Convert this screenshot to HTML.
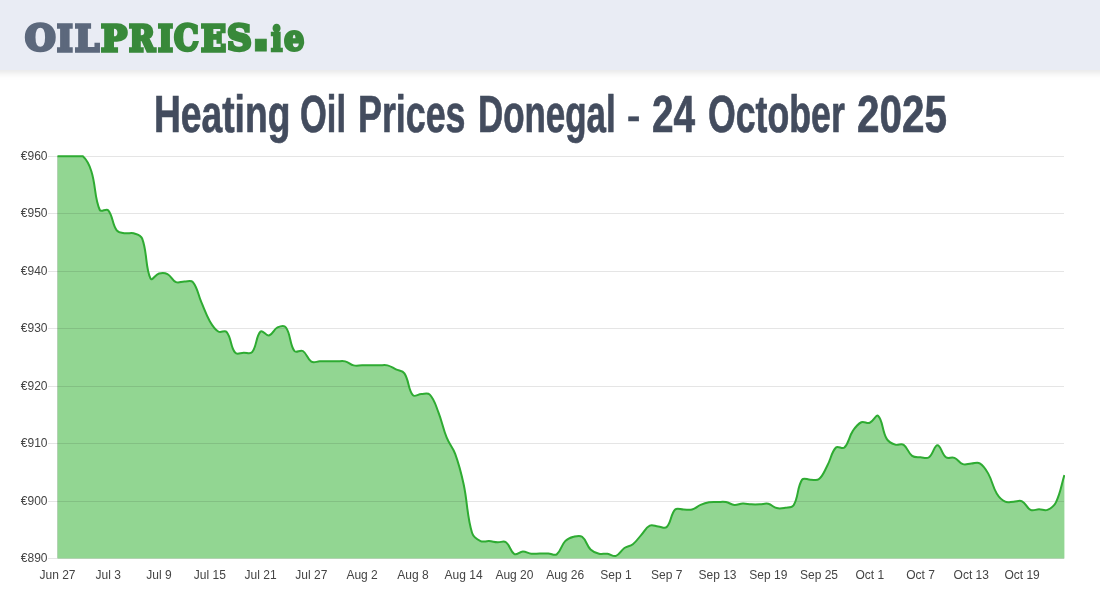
<!DOCTYPE html>
<html lang="en">
<head>
<meta charset="utf-8">
<title>Heating Oil Prices Donegal - 24 October 2025</title>
<style>
html,body{margin:0;padding:0;background:#fff;}
body{width:1100px;height:600px;position:relative;overflow:hidden;font-family:"Liberation Sans",sans-serif;}
#hdr{position:absolute;left:-30px;top:0;width:1160px;height:70px;background:#e9ecf4;box-shadow:0 2px 8px rgba(0,0,0,0.12);}
#logo{position:absolute;left:30px;top:0;width:320px;height:70px;white-space:nowrap;font-family:"DejaVu Serif","Liberation Serif",serif;font-weight:bold;font-size:35.0px;line-height:35.0px;}
#logo span{position:absolute;display:block;transform-origin:0 0;}
#logo .a{color:#5c687c;-webkit-text-stroke:3.3px #5c687c;}
#logo .b{color:#38893a;-webkit-text-stroke:3.3px #38893a;}
#ttl{position:absolute;left:0;top:85px;-webkit-text-stroke:0.7px #434c5e;width:1100px;height:60px;margin:0;font-family:"Liberation Sans",sans-serif;font-weight:bold;font-size:51px;line-height:60px;color:#434c5e;white-space:nowrap;}
#ttl span{position:absolute;top:0;display:block;transform-origin:0 50%;}
svg{position:absolute;left:0;top:0;}
.tk{font-family:"Liberation Sans",sans-serif;font-size:12px;fill:#444;}
</style>
</head>
<body>
<div id="hdr">
  <div id="logo"><span class="a" style="left:24.55px;top:20.39px;transform:scale(1.0032,1.0034)">O</span><span class="a" style="left:57.0px;top:20.55px;transform:scale(0.9576,0.9983)">I</span><span class="a" style="left:74.5px;top:20.55px;transform:scale(0.9804,0.9983)">L</span><span class="b" style="left:101.0px;top:20.55px;transform:scale(0.9889,0.9983)">P</span><span class="b" style="left:128.8px;top:20.55px;transform:scale(0.8968,0.9983)">R</span><span class="b" style="left:158.0px;top:20.55px;transform:scale(0.9091,0.9983)">I</span><span class="b" style="left:174.22px;top:20.39px;transform:scale(0.8842,1.0034)">C</span><span class="b" style="left:201.3px;top:20.55px;transform:scale(0.9396,0.9983)">E</span><span class="b" style="left:227.07px;top:20.39px;transform:scale(0.9792,1.0034)">S</span><span class="b" style="left:249.32px;top:-0.75px;transform:scale(1.7778,1.7857);font-family:'DejaVu Sans',sans-serif;-webkit-text-stroke-width:0.5px">.</span><span class="b" style="left:271.11px;top:21.63px;transform:scale(0.8571,0.9709);-webkit-text-stroke-width:2.8px">i</span><span class="b" style="left:283.5px;top:20.22px;transform:scale(0.9136,0.9977);-webkit-text-stroke-width:2.8px">e</span></div>
</div>
<h1 id="ttl"><span style="left:153.81px;transform:scaleX(0.7293)">Heating</span> <span style="left:300.05px;transform:scaleX(0.6762)">Oil</span> <span style="left:358.29px;transform:scaleX(0.702)">Prices</span> <span style="left:477.55px;transform:scaleX(0.6841)">Donegal</span> <span style="left:627.21px;top:0.5px;transform:scaleX(0.7857) scaleY(0.7)">-</span> <span style="left:652.24px;transform:scaleX(0.7607)">24</span> <span style="left:707.6px;transform:scaleX(0.6995)">October</span> <span style="left:856.81px;transform:scaleX(0.7928)">2025</span></h1>
<svg width="1100" height="600" viewBox="0 0 1100 600">
  <clipPath id="cp"><rect x="57" y="154" width="1008" height="405"/></clipPath>
  <g clip-path="url(#cp)">
    <path d="M57.50 156.30 C60.88 156.30 62.58 156.30 65.96 156.30 C69.35 156.30 71.04 156.30 74.42 156.30 C77.81 156.30 80.65 156.30 82.88 156.30 C87.42 160.30 89.30 164.75 91.35 171.23 C96.07 186.23 94.23 197.13 99.81 210.00 C101.00 212.75 106.38 208.01 108.27 210.29 C113.14 216.16 111.93 223.87 116.73 230.39 C118.70 233.06 121.71 232.67 125.19 233.26 C128.48 233.82 130.54 232.31 133.65 233.26 C137.30 234.38 140.80 234.90 142.11 238.43 C147.57 253.05 145.12 267.35 150.57 278.64 C151.89 281.36 155.39 274.46 159.04 273.47 C162.16 272.62 164.65 272.59 167.50 274.04 C171.42 276.04 172.04 280.35 175.96 282.08 C178.81 283.34 181.04 281.51 184.42 281.51 C187.80 281.51 190.99 279.77 192.88 282.08 C197.76 288.04 197.87 294.18 201.34 302.19 C204.64 309.80 205.69 314.01 209.80 321.14 C212.45 325.73 214.12 328.81 218.27 331.48 C220.89 333.17 224.86 329.71 226.73 332.05 C231.63 338.21 230.28 346.73 235.19 352.73 C237.05 355.00 240.27 352.84 243.65 352.73 C247.04 352.62 250.25 354.49 252.11 352.16 C257.02 345.99 255.80 336.17 260.57 331.48 C262.57 329.51 266.02 336.22 269.03 335.50 C272.79 334.61 273.57 329.32 277.49 327.46 C280.34 326.11 284.25 325.08 285.96 327.46 C291.01 334.50 289.36 343.97 294.42 351.01 C296.13 353.39 300.28 349.38 302.88 351.01 C307.05 353.63 307.17 359.09 311.34 361.63 C313.94 363.22 316.42 361.40 319.80 361.35 C323.19 361.29 324.88 361.35 328.26 361.35 C331.65 361.35 333.34 361.35 336.72 361.35 C340.11 361.35 341.97 360.58 345.19 361.35 C348.74 362.19 350.09 364.52 353.65 365.37 C356.86 366.13 358.72 365.37 362.11 365.37 C365.49 365.37 367.19 365.37 370.57 365.37 C373.95 365.37 375.65 365.37 379.03 365.37 C382.42 365.37 384.28 364.60 387.49 365.37 C391.05 366.21 392.57 367.78 395.95 369.39 C399.34 370.99 402.48 370.45 404.42 373.41 C409.25 380.79 407.92 389.17 412.88 395.23 C414.69 397.44 417.94 394.20 421.34 394.08 C424.71 393.97 427.72 392.48 429.80 394.66 C434.49 399.60 435.46 404.76 438.26 411.89 C442.23 421.99 442.66 427.68 446.72 437.74 C449.43 444.45 452.71 447.02 455.18 453.82 C459.48 465.63 461.01 471.91 463.64 484.26 C467.78 503.62 466.63 514.67 472.11 533.08 C473.40 537.41 476.64 539.25 480.57 541.12 C483.41 542.47 485.66 540.89 489.03 541.12 C492.43 541.35 494.09 542.04 497.49 542.27 C500.86 542.50 503.46 540.53 505.95 542.27 C510.23 545.24 510.21 551.76 514.41 554.04 C516.98 555.44 519.47 551.52 522.87 551.46 C526.24 551.40 527.89 553.35 531.34 553.76 C534.66 554.15 536.41 553.53 539.80 553.47 C543.18 553.41 544.88 553.30 548.26 553.47 C551.65 553.64 554.34 556.07 556.72 554.33 C561.11 551.13 560.96 545.48 565.18 541.12 C567.73 538.48 570.06 537.72 573.64 536.81 C576.83 536.00 579.68 535.00 582.10 536.81 C586.45 540.06 586.40 545.28 590.56 549.45 C593.17 552.05 595.45 552.84 599.03 553.76 C602.22 554.57 604.15 553.34 607.49 553.76 C610.92 554.19 613.04 556.87 615.95 555.88 C619.81 554.57 620.65 550.60 624.41 548.01 C627.42 545.94 630.01 546.45 632.87 544.22 C636.78 541.17 637.93 538.55 641.33 534.80 C644.69 531.10 645.77 527.59 649.79 525.61 C652.54 524.26 654.87 526.19 658.26 526.47 C661.64 526.76 664.66 529.11 666.72 527.05 C671.43 522.33 670.46 514.41 675.18 509.53 C677.23 507.41 680.25 509.53 683.64 509.53 C687.02 509.53 688.93 510.39 692.10 509.53 C695.70 508.55 697.03 506.43 700.56 504.93 C703.80 503.56 705.56 502.94 709.02 502.35 C712.33 501.79 714.10 502.12 717.48 502.06 C720.87 502.01 722.65 501.50 725.95 502.06 C729.42 502.65 730.95 504.64 734.41 504.93 C737.72 505.22 739.47 503.61 742.87 503.50 C746.24 503.38 747.94 504.19 751.33 504.36 C754.71 504.53 756.41 504.48 759.79 504.36 C763.18 504.25 765.06 503.08 768.25 503.79 C771.83 504.57 773.14 507.24 776.71 508.09 C779.91 508.85 781.87 508.37 785.18 507.81 C788.63 507.22 791.96 508.01 793.64 505.22 C798.73 496.75 796.95 487.44 802.10 479.66 C803.72 477.22 807.18 479.78 810.56 479.66 C813.95 479.55 816.69 481.06 819.02 479.09 C823.46 475.32 824.43 471.00 827.48 465.30 C831.20 458.36 831.21 452.48 835.94 447.50 C837.98 445.36 842.29 449.58 844.41 447.50 C849.06 442.91 848.75 436.98 852.87 430.84 C855.52 426.87 857.35 424.12 861.33 422.23 C864.12 420.90 866.83 423.91 869.79 422.80 C873.60 421.38 876.16 413.93 878.25 415.91 C882.93 420.36 881.94 430.78 886.71 438.88 C888.71 442.27 891.47 443.31 895.17 444.63 C898.24 445.72 901.06 443.21 903.63 444.91 C907.83 447.69 907.92 452.78 912.10 455.83 C914.69 457.72 917.15 456.97 920.56 457.26 C923.92 457.55 926.55 459.02 929.02 457.26 C933.32 454.20 934.10 445.20 937.48 445.20 C940.86 445.20 941.65 454.06 945.94 457.26 C948.41 459.11 951.39 456.61 954.40 457.84 C958.16 459.37 959.11 462.88 962.86 464.16 C965.88 465.18 967.94 463.75 971.33 463.58 C974.71 463.41 977.16 461.73 979.79 463.29 C983.93 465.75 985.66 469.02 988.25 473.63 C992.43 481.08 992.33 486.20 996.71 493.45 C999.10 497.41 1001.23 499.75 1005.17 501.66 C1008.00 503.03 1010.25 501.73 1013.63 501.66 C1017.02 501.59 1019.29 499.97 1022.09 501.32 C1026.06 503.23 1026.59 507.93 1030.55 509.82 C1033.36 511.15 1035.63 509.36 1039.02 509.36 C1042.40 509.36 1044.57 511.02 1047.48 509.82 C1051.34 508.22 1054.02 506.29 1055.94 502.35 C1060.79 492.39 1061.02 485.98 1064.40 475.07 L1064.40 558.60 L57.50 558.60 Z" fill="rgba(37,173,37,0.5)" stroke="none"/>
  </g>
  <g stroke="rgba(0,0,0,0.1)" stroke-width="1" shape-rendering="crispEdges">
    <line x1="48" x2="1064" y1="156.5" y2="156.5"/>
    <line x1="48" x2="1064" y1="213.5" y2="213.5"/>
    <line x1="48" x2="1064" y1="271.5" y2="271.5"/>
    <line x1="48" x2="1064" y1="328.5" y2="328.5"/>
    <line x1="48" x2="1064" y1="386.5" y2="386.5"/>
    <line x1="48" x2="1064" y1="443.5" y2="443.5"/>
    <line x1="48" x2="1064" y1="501.5" y2="501.5"/>
    <line x1="48" x2="1064" y1="558.5" y2="558.5"/>
    <line x1="57.5" x2="57.5" y1="156" y2="558"/>
  </g>
  <g clip-path="url(#cp)">
    <path d="M57.50 156.30 C60.88 156.30 62.58 156.30 65.96 156.30 C69.35 156.30 71.04 156.30 74.42 156.30 C77.81 156.30 80.65 156.30 82.88 156.30 C87.42 160.30 89.30 164.75 91.35 171.23 C96.07 186.23 94.23 197.13 99.81 210.00 C101.00 212.75 106.38 208.01 108.27 210.29 C113.14 216.16 111.93 223.87 116.73 230.39 C118.70 233.06 121.71 232.67 125.19 233.26 C128.48 233.82 130.54 232.31 133.65 233.26 C137.30 234.38 140.80 234.90 142.11 238.43 C147.57 253.05 145.12 267.35 150.57 278.64 C151.89 281.36 155.39 274.46 159.04 273.47 C162.16 272.62 164.65 272.59 167.50 274.04 C171.42 276.04 172.04 280.35 175.96 282.08 C178.81 283.34 181.04 281.51 184.42 281.51 C187.80 281.51 190.99 279.77 192.88 282.08 C197.76 288.04 197.87 294.18 201.34 302.19 C204.64 309.80 205.69 314.01 209.80 321.14 C212.45 325.73 214.12 328.81 218.27 331.48 C220.89 333.17 224.86 329.71 226.73 332.05 C231.63 338.21 230.28 346.73 235.19 352.73 C237.05 355.00 240.27 352.84 243.65 352.73 C247.04 352.62 250.25 354.49 252.11 352.16 C257.02 345.99 255.80 336.17 260.57 331.48 C262.57 329.51 266.02 336.22 269.03 335.50 C272.79 334.61 273.57 329.32 277.49 327.46 C280.34 326.11 284.25 325.08 285.96 327.46 C291.01 334.50 289.36 343.97 294.42 351.01 C296.13 353.39 300.28 349.38 302.88 351.01 C307.05 353.63 307.17 359.09 311.34 361.63 C313.94 363.22 316.42 361.40 319.80 361.35 C323.19 361.29 324.88 361.35 328.26 361.35 C331.65 361.35 333.34 361.35 336.72 361.35 C340.11 361.35 341.97 360.58 345.19 361.35 C348.74 362.19 350.09 364.52 353.65 365.37 C356.86 366.13 358.72 365.37 362.11 365.37 C365.49 365.37 367.19 365.37 370.57 365.37 C373.95 365.37 375.65 365.37 379.03 365.37 C382.42 365.37 384.28 364.60 387.49 365.37 C391.05 366.21 392.57 367.78 395.95 369.39 C399.34 370.99 402.48 370.45 404.42 373.41 C409.25 380.79 407.92 389.17 412.88 395.23 C414.69 397.44 417.94 394.20 421.34 394.08 C424.71 393.97 427.72 392.48 429.80 394.66 C434.49 399.60 435.46 404.76 438.26 411.89 C442.23 421.99 442.66 427.68 446.72 437.74 C449.43 444.45 452.71 447.02 455.18 453.82 C459.48 465.63 461.01 471.91 463.64 484.26 C467.78 503.62 466.63 514.67 472.11 533.08 C473.40 537.41 476.64 539.25 480.57 541.12 C483.41 542.47 485.66 540.89 489.03 541.12 C492.43 541.35 494.09 542.04 497.49 542.27 C500.86 542.50 503.46 540.53 505.95 542.27 C510.23 545.24 510.21 551.76 514.41 554.04 C516.98 555.44 519.47 551.52 522.87 551.46 C526.24 551.40 527.89 553.35 531.34 553.76 C534.66 554.15 536.41 553.53 539.80 553.47 C543.18 553.41 544.88 553.30 548.26 553.47 C551.65 553.64 554.34 556.07 556.72 554.33 C561.11 551.13 560.96 545.48 565.18 541.12 C567.73 538.48 570.06 537.72 573.64 536.81 C576.83 536.00 579.68 535.00 582.10 536.81 C586.45 540.06 586.40 545.28 590.56 549.45 C593.17 552.05 595.45 552.84 599.03 553.76 C602.22 554.57 604.15 553.34 607.49 553.76 C610.92 554.19 613.04 556.87 615.95 555.88 C619.81 554.57 620.65 550.60 624.41 548.01 C627.42 545.94 630.01 546.45 632.87 544.22 C636.78 541.17 637.93 538.55 641.33 534.80 C644.69 531.10 645.77 527.59 649.79 525.61 C652.54 524.26 654.87 526.19 658.26 526.47 C661.64 526.76 664.66 529.11 666.72 527.05 C671.43 522.33 670.46 514.41 675.18 509.53 C677.23 507.41 680.25 509.53 683.64 509.53 C687.02 509.53 688.93 510.39 692.10 509.53 C695.70 508.55 697.03 506.43 700.56 504.93 C703.80 503.56 705.56 502.94 709.02 502.35 C712.33 501.79 714.10 502.12 717.48 502.06 C720.87 502.01 722.65 501.50 725.95 502.06 C729.42 502.65 730.95 504.64 734.41 504.93 C737.72 505.22 739.47 503.61 742.87 503.50 C746.24 503.38 747.94 504.19 751.33 504.36 C754.71 504.53 756.41 504.48 759.79 504.36 C763.18 504.25 765.06 503.08 768.25 503.79 C771.83 504.57 773.14 507.24 776.71 508.09 C779.91 508.85 781.87 508.37 785.18 507.81 C788.63 507.22 791.96 508.01 793.64 505.22 C798.73 496.75 796.95 487.44 802.10 479.66 C803.72 477.22 807.18 479.78 810.56 479.66 C813.95 479.55 816.69 481.06 819.02 479.09 C823.46 475.32 824.43 471.00 827.48 465.30 C831.20 458.36 831.21 452.48 835.94 447.50 C837.98 445.36 842.29 449.58 844.41 447.50 C849.06 442.91 848.75 436.98 852.87 430.84 C855.52 426.87 857.35 424.12 861.33 422.23 C864.12 420.90 866.83 423.91 869.79 422.80 C873.60 421.38 876.16 413.93 878.25 415.91 C882.93 420.36 881.94 430.78 886.71 438.88 C888.71 442.27 891.47 443.31 895.17 444.63 C898.24 445.72 901.06 443.21 903.63 444.91 C907.83 447.69 907.92 452.78 912.10 455.83 C914.69 457.72 917.15 456.97 920.56 457.26 C923.92 457.55 926.55 459.02 929.02 457.26 C933.32 454.20 934.10 445.20 937.48 445.20 C940.86 445.20 941.65 454.06 945.94 457.26 C948.41 459.11 951.39 456.61 954.40 457.84 C958.16 459.37 959.11 462.88 962.86 464.16 C965.88 465.18 967.94 463.75 971.33 463.58 C974.71 463.41 977.16 461.73 979.79 463.29 C983.93 465.75 985.66 469.02 988.25 473.63 C992.43 481.08 992.33 486.20 996.71 493.45 C999.10 497.41 1001.23 499.75 1005.17 501.66 C1008.00 503.03 1010.25 501.73 1013.63 501.66 C1017.02 501.59 1019.29 499.97 1022.09 501.32 C1026.06 503.23 1026.59 507.93 1030.55 509.82 C1033.36 511.15 1035.63 509.36 1039.02 509.36 C1042.40 509.36 1044.57 511.02 1047.48 509.82 C1051.34 508.22 1054.02 506.29 1055.94 502.35 C1060.79 492.39 1061.02 485.98 1064.40 475.07" fill="none" stroke="#2eab32" stroke-width="2" stroke-linejoin="round" stroke-linecap="butt"/>
  </g>
  <g class="tk" text-anchor="end">
    <text x="47.5" y="160">€960</text>
    <text x="47.5" y="217">€950</text>
    <text x="47.5" y="275">€940</text>
    <text x="47.5" y="332">€930</text>
    <text x="47.5" y="390">€920</text>
    <text x="47.5" y="447">€910</text>
    <text x="47.5" y="505">€900</text>
    <text x="47.5" y="562">€890</text>
  </g>
  <g class="tk" text-anchor="middle">
    <text x="57.5" y="578.6">Jun 27</text>
    <text x="108.3" y="578.6">Jul 3</text>
    <text x="159.0" y="578.6">Jul 9</text>
    <text x="209.8" y="578.6">Jul 15</text>
    <text x="260.6" y="578.6">Jul 21</text>
    <text x="311.3" y="578.6">Jul 27</text>
    <text x="362.1" y="578.6">Aug 2</text>
    <text x="412.9" y="578.6">Aug 8</text>
    <text x="463.6" y="578.6">Aug 14</text>
    <text x="514.4" y="578.6">Aug 20</text>
    <text x="565.2" y="578.6">Aug 26</text>
    <text x="615.9" y="578.6">Sep 1</text>
    <text x="666.7" y="578.6">Sep 7</text>
    <text x="717.5" y="578.6">Sep 13</text>
    <text x="768.3" y="578.6">Sep 19</text>
    <text x="819.0" y="578.6">Sep 25</text>
    <text x="869.8" y="578.6">Oct 1</text>
    <text x="920.6" y="578.6">Oct 7</text>
    <text x="971.3" y="578.6">Oct 13</text>
    <text x="1022.1" y="578.6">Oct 19</text>
  </g>
</svg>
</body>
</html>
